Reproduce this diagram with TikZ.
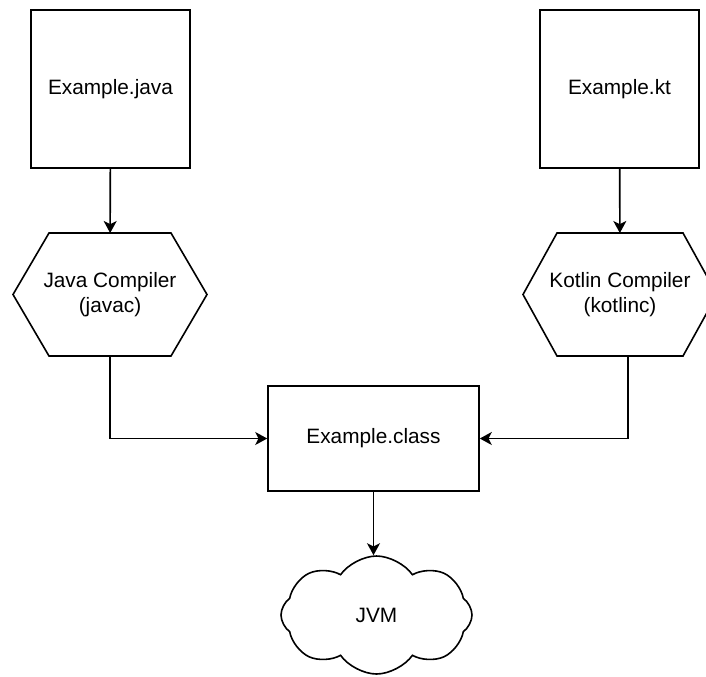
\documentclass[tikz,border=0pt]{standalone}
\usepackage{fontspec}
\setmainfont{Liberation Sans}
\usetikzlibrary{arrows.meta,positioning,calc,shapes.symbols}

\begin{document}
\begin{tikzpicture}[x=0.5pt,y=-0.5pt,
t/.style={align=center,font=\fontsize{10.4}{12.5}\selectfont},
b/.style={t,draw,line width=0.8pt,minimum width=79.5pt,minimum height=79pt},
h/.style={t,inner sep=0pt,outer sep=0pt,minimum width=97pt,minimum height=61.5pt},
l/.style={line width=0.8pt},
a/.style={-{Stealth[length=6pt,width=6.5pt,inset=1.6pt]},line width=0.8pt}]
\useasboundingbox (0,0) rectangle (706,676);
\node[b] (java) at (110.5,89) {Example.java};
\node[b] (kt) at (619.5,89) {Example.kt};
\node[h] (jc) at (110,294.5) {Java Compiler\\(javac)};
\node[h] (kc) at (620,294.5) {Kotlin Compiler\\(kotlinc)};
\node[b,minimum width=105.5pt,minimum height=52.5pt] (cls) at (373.5,438.5) {Example.class};
\node[t,cloud,draw,line width=0.8pt,cloud puffs=8,cloud puff arc=110,aspect=1.6,minimum width=95.5pt,minimum height=59pt,inner sep=0pt] (jvm) at (376.5,615) {JVM};
% hexagons
\draw[l] (jc.west) -- ([xshift=18pt]jc.north west) -- ([xshift=-18pt]jc.north east) -- (jc.east) -- ([xshift=-18pt]jc.south east) -- ([xshift=18pt]jc.south west) -- cycle;
\draw[l] (kc.west) -- ([xshift=17pt]kc.north west) -- ([xshift=-17pt]kc.north east) -- (kc.east) -- ([xshift=-17pt]kc.south east) -- ([xshift=17pt]kc.south west) -- cycle;
\coordinate (kout) at ($(kc.south)+(8,0)$);
\draw[a] (java) -- (jc);
\draw[a] (kt) -- (kc);
\draw[a] (jc.south) |- (cls.west);
\draw[a] (kout) |- (cls.east);
\draw[a] (cls.south) -- (cls.south |- jvm.north);
\end{tikzpicture}
\end{document}
